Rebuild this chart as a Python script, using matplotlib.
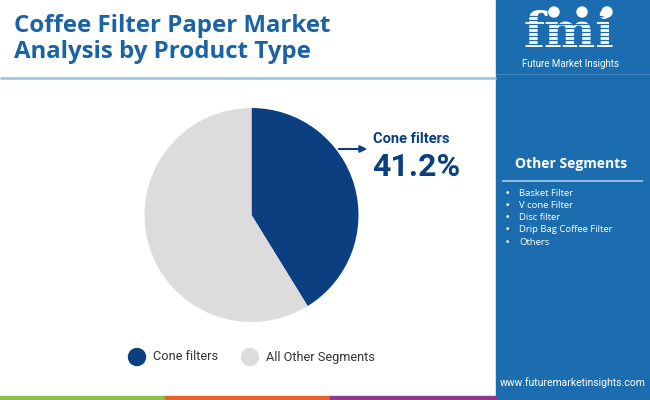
import matplotlib
matplotlib.use("Agg")
import matplotlib.pyplot as plt
from matplotlib.patches import Rectangle, Circle, FancyArrowPatch

# data
segments = ["Cone filters", "All Other Segments"]
shares = [41.2, 58.8]
colors = ["#0b3f7f", "#dcdcdc"]
other_segments = ["Basket Filter", "V cone Filter", "Disc filter",
                  "Drip Bag Coffee Filter", "Others"]
title_lines = ["Coffee Filter Paper Market", "Analysis by Product Type"]

W, H = 650, 400
PANEL = "#1b6db0"
TITLE_C = "#1a63a6"

fig = plt.figure(figsize=(W / 100, H / 100), dpi=100)
bg = fig.add_axes([0, 0, 1, 1])
bg.set_xlim(0, W)
bg.set_ylim(H, 0)
bg.axis("off")

# title
bg.text(14, 32, title_lines[0], fontsize=17.3, fontweight="bold",
        color=TITLE_C, family="Open Sans", va="baseline")
bg.text(14, 58, title_lines[1], fontsize=17.3, fontweight="bold",
        color=TITLE_C, family="Open Sans", va="baseline")
bg.plot([0, 496], [78, 78], color="#a3c6e2", lw=2, solid_capstyle="butt")

# right panel with a rough logo
bg.add_patch(Rectangle((496, 0), W - 496, H, color=PANEL, zorder=1))
bg.text(569, 47, "fmi", fontsize=35, fontweight="bold", color="white",
        family="DejaVu Serif", ha="center", va="baseline", zorder=2)
for yy in range(16, 50, 4):
    bg.plot([510, 632], [yy, yy], color=PANEL, lw=0.9, zorder=3)
for cx in [554, 582, 607]:
    bg.add_patch(Circle((cx, 12), 5, color="white", zorder=4))
bg.text(571, 67, "Future Market Insights", fontsize=7, color="white",
        family="Roboto", ha="center", va="baseline", zorder=4)
bg.plot([496, 650], [74, 74], color="#4a8cc4", lw=0.6, zorder=2)

bg.text(571, 168, "Other Segments", fontsize=10, fontweight="bold",
        color="white", family="Open Sans", ha="center", va="baseline",
        zorder=4)
bg.plot([503, 642], [181, 181], color="#8dbbe0", lw=1.5, zorder=4)
for i, name in enumerate(other_segments):
    y = 193 + i * 12.3
    bg.text(507, y, "\u2022", fontsize=6.5, color="white",
            ha="center", va="center", zorder=4)
    bg.text(519, y, name, fontsize=6.8, color="white", family="Open Sans",
            va="center", zorder=4)
bg.text(646, 383, "www.futuremarketinsights.com", fontsize=7.5,
        color="white", family="Roboto", ha="right", va="center", zorder=4)

# bottom strip
for x0, c in [(0, "#8cc04a"), (165, "#e8632b"), (330, "#8c3b8e")]:
    bg.add_patch(Rectangle((x0, 396), 166, 4, color=c, zorder=2))

# pie
cx, cy, r = 251.5, 215, 107
pie_ax = fig.add_axes([(cx - r) / W, (H - cy - r) / H, 2 * r / W, 2 * r / H])
pie_ax.pie(shares, colors=colors, startangle=90, counterclock=False,
           wedgeprops=dict(linewidth=0))
pie_ax.set_aspect("equal")
pie_ax.set_xlim(-1, 1)
pie_ax.set_ylim(-1, 1)

# callout
arrow = FancyArrowPatch((336, 149), (370, 149), arrowstyle="-|>",
                        mutation_scale=10, color=colors[0], lw=1.5,
                        transform=bg.transData, zorder=5)
bg.add_patch(arrow)
bg.text(373, 143, segments[0], fontsize=10.5, fontweight="bold",
        color=colors[0], family="Roboto", va="baseline")
bg.text(372, 176, "{:.1f}%".format(shares[0]), fontsize=23,
        fontweight="bold", color=colors[0], family="Roboto", va="baseline")

# legend
legend_x = [137, 250]
for i, name in enumerate(segments):
    bg.add_patch(Circle((legend_x[i], 357), 8.5, color=colors[i], zorder=4))
    bg.text(legend_x[i] + 16, 357, name, fontsize=9.2, color="#333333",
            family="Roboto", va="center")

fig.savefig("out.png", dpi=100)
